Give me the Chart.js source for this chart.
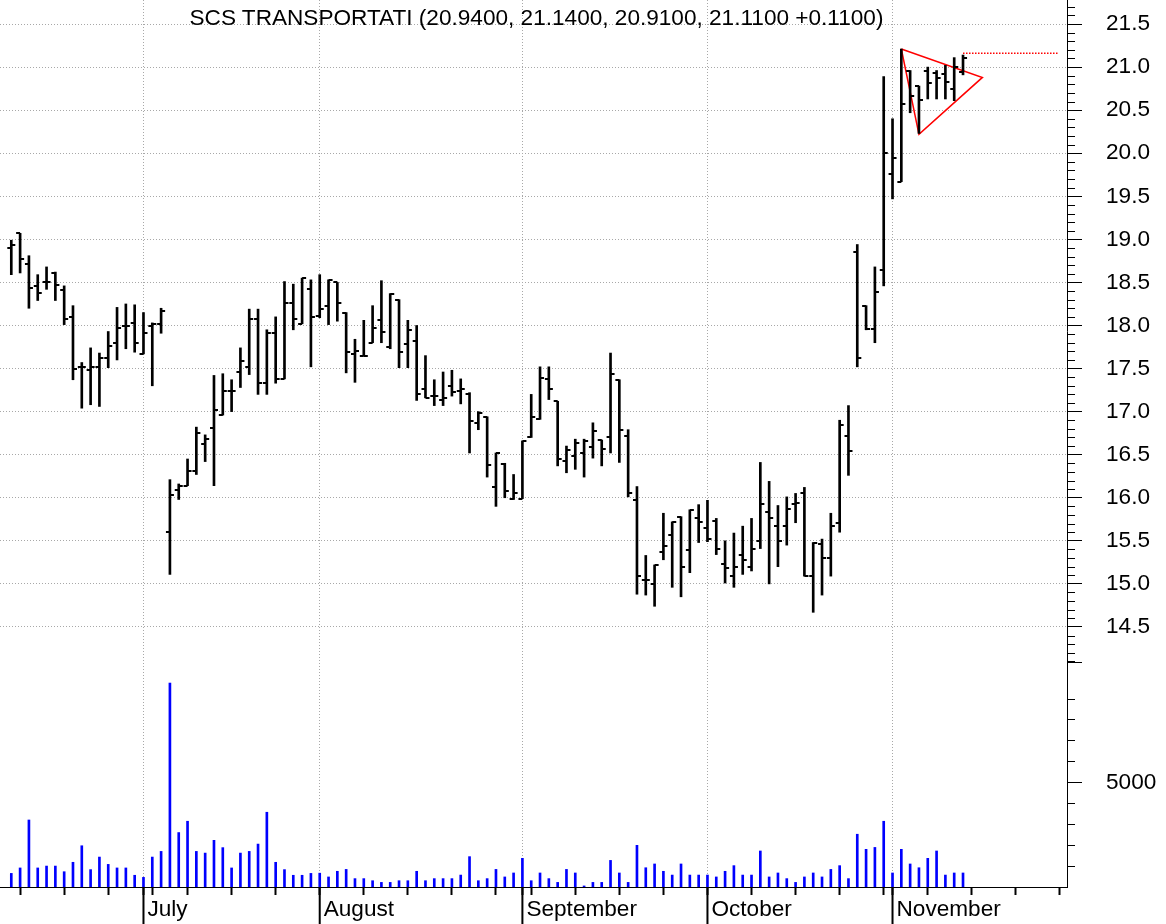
<!DOCTYPE html>
<html>
<head>
<meta charset="utf-8">
<title>SCS TRANSPORTATI</title>
<script src="https://cdn.jsdelivr.net/npm/chart.js@4.4.1/dist/chart.umd.min.js"></script>
<style>
  html, body { margin: 0; padding: 0; background: #fff; }
  #wrap { position: relative; width: 1166px; height: 924px; }
  #title {
    position: absolute; left: 0; top: 7px; width: 1073px;
    text-align: center; white-space: nowrap; color: #000;
    font: 22.6px/22px "Liberation Sans", Arial, sans-serif;
  }
</style>
</head>
<body>
<div id="wrap">
  <canvas id="chart" width="1166" height="924"></canvas>
  <div id="title">SCS TRANSPORTATI (20.9400, 21.1400, 20.9100, 21.1100 +0.1100)</div>
</div>
<script>
// ---------------------------------------------------------------
// Daily bars, 10 Jun -> 11 Nov (one entry per trading session)
// ---------------------------------------------------------------
const opens = [
  18.90, 19.07, 18.71, 18.46, 18.51, 18.61, 18.41, 18.10, 17.52, 17.48,
  17.52, 17.62, 17.80, 17.99, 18.03, 17.67, 17.99, 18.02, 15.60, 16.09,
  16.14, 16.31, 16.62, 16.81, 16.96, 17.24, 17.46, 17.52, 18.08, 17.33,
  17.91, 17.38, 18.26, 18.02, 18.42, 18.11, 18.23, 18.50, 18.15, 17.67,
  17.65, 17.80, 18.06, 17.75, 18.30, 17.78, 17.82, 17.26, 17.18, 17.14,
  17.30, 17.24, 17.20, 16.87, 16.94, 16.12, 16.39, 15.99, 15.99, 16.70,
  16.91, 17.38, 17.12, 16.43, 16.48, 16.52, 16.59, 16.67, 16.70, 17.37,
  16.72, 15.97, 15.04, 15.00, 15.37, 15.57, 15.78, 15.39, 15.76, 15.65,
  15.73, 15.23, 15.09, 15.34, 15.20, 15.50, 15.84, 15.67, 15.67, 15.93,
  16.05, 15.09, 15.46, 15.30, 15.71, 16.72, 18.85, 18.23, 17.96, 18.64,
  19.76, 19.67, 20.96, 20.78, 20.96, 20.93, 20.92, 20.75, 20.94
];
const highs = [
  18.99, 19.07, 18.81, 18.59, 18.68, 18.62, 18.46, 18.23, 17.57, 17.74,
  17.68, 17.93, 18.21, 18.25, 18.24, 18.15, 18.03, 18.20, 16.21, 16.16,
  16.45, 16.82, 16.73, 17.42, 17.44, 17.37, 17.74, 18.19, 18.19, 17.95,
  18.10, 18.51, 18.48, 18.55, 18.53, 18.59, 18.53, 18.50, 18.15, 17.84,
  18.06, 18.23, 18.52, 18.37, 18.30, 18.06, 18.00, 17.65, 17.37, 17.46,
  17.48, 17.38, 17.22, 17.00, 16.94, 16.52, 16.40, 16.27, 16.66, 17.20,
  17.52, 17.52, 17.12, 16.60, 16.68, 16.68, 16.87, 16.67, 17.68, 17.37,
  16.79, 16.13, 15.33, 15.22, 15.82, 15.72, 15.78, 15.86, 15.92, 15.97,
  15.76, 15.50, 15.59, 15.67, 15.76, 16.41, 16.19, 15.91, 16.01, 16.05,
  16.12, 15.48, 15.52, 15.82, 16.90, 17.07, 18.94, 18.23, 18.68, 20.89,
  20.40, 21.21, 20.96, 20.78, 21.00, 20.96, 21.02, 21.11, 21.14
];
const lows = [
  18.59, 18.61, 18.20, 18.29, 18.42, 18.29, 18.01, 17.37, 17.04, 17.08,
  17.06, 17.51, 17.60, 17.73, 17.69, 17.67, 17.30, 17.91, 15.11, 15.98,
  16.14, 16.27, 16.42, 16.14, 16.96, 17.00, 17.28, 17.43, 17.20, 17.20,
  17.33, 17.38, 17.95, 18.02, 17.52, 18.09, 18.01, 18.05, 17.45, 17.34,
  17.65, 17.80, 17.80, 17.73, 17.51, 17.51, 17.13, 17.16, 17.07, 17.07,
  17.18, 17.09, 16.52, 16.79, 16.24, 15.90, 16.00, 15.98, 15.99, 16.70,
  16.91, 17.14, 16.37, 16.29, 16.33, 16.24, 16.46, 16.37, 16.52, 16.41,
  16.01, 14.88, 14.87, 14.74, 15.28, 14.96, 14.85, 15.13, 15.48, 15.49,
  15.34, 15.01, 14.96, 15.11, 15.15, 15.41, 15.00, 15.20, 15.45, 15.71,
  15.09, 14.67, 14.87, 15.09, 15.60, 16.26, 17.52, 17.95, 17.80, 18.46,
  19.47, 19.67, 20.47, 20.23, 20.63, 20.63, 20.63, 20.61, 20.91
];
const closes = [
  18.94, 18.77, 18.43, 18.38, 18.51, 18.47, 18.08, 17.50, 17.52, 17.52,
  17.62, 17.76, 17.97, 17.99, 17.80, 17.91, 18.02, 18.17, 16.03, 16.14,
  16.31, 16.75, 16.68, 17.02, 17.24, 17.24, 17.59, 18.08, 17.33, 17.91,
  17.38, 18.26, 18.08, 18.55, 18.10, 18.19, 18.53, 18.26, 17.69, 17.70,
  17.65, 17.97, 17.93, 18.37, 17.69, 17.95, 17.20, 17.16, 17.18, 17.16,
  17.23, 17.26, 16.89, 16.98, 16.38, 16.52, 16.08, 16.06, 16.66, 16.94,
  17.39, 17.26, 16.45, 16.55, 16.63, 16.66, 16.77, 16.57, 17.44, 16.79,
  16.05, 15.09, 15.05, 15.22, 15.44, 15.72, 15.20, 15.86, 15.72, 15.52,
  15.41, 15.18, 15.20, 15.28, 15.41, 15.93, 15.76, 15.50, 15.87, 15.94,
  15.09, 15.48, 15.30, 15.67, 16.85, 16.54, 17.62, 17.96, 18.39, 20.00,
  19.95, 20.57, 20.66, 20.62, 20.82, 20.87, 20.83, 21.00, 21.11
];
const volumes = [
   650,  910, 3200,  910, 1000, 1000,  730, 1180, 1970,  830,
  1430, 1080,  910,  910,  560,  460, 1430, 1700, 9740, 2600,
  3140, 1700, 1620, 2230, 1880,  910, 1620, 1700, 2050, 3570,
  1180,  830,  560,  560,  650,  660,  480,  750,  840,  400,
   400,  300,  220,  220,  300,  300,  750,  300,  400,  400,
   400,  570, 1450,  300,  400,  840,  480,  670, 1370,  300,
   670,  400,  220,  840,  670,   50,  220,  220, 1270,  670,
   220, 1990,  920, 1100,  750,  570, 1100,  570,  570,  570,
   480,  750, 1020,  570,  570, 1720,  480,  670,  400,  220,
   480,  670,  480,  840, 1020,  400, 2520, 1800, 1890, 3140,
   670, 1800, 1100,  920, 1370, 1720,  570,  670,  670
];

// time axis: session index of each month start and of each week start
const monthNames = ['July', 'August', 'September', 'October', 'November'];
const monthStarts = [15, 35, 58, 79, 100];
const weekStarts = [1, 6, 11, 16, 20, 25, 30, 35, 40, 45, 50, 55, 59, 64, 69,
                    74, 79, 84, 89, 94, 99, 104, 109, 114, 119];

// axis labels
const priceTicks = [21.5, 21.0, 20.5, 20.0, 19.5, 19.0, 18.5, 18.0, 17.5,
                    17.0, 16.5, 16.0, 15.5, 15.0, 14.5];
const volumeTicks = [5000];

// drawn pattern: pennant + last high marker
const pennantX = [101, 110.2, 103, 101];
const pennantY = [21.21, 20.88, 20.22, 21.21];
const markerX = [108, 118.8];
const markerY = [21.16, 21.16];

const FONT = '"Liberation Sans", Arial, sans-serif';
Chart.defaults.font.family = FONT;
Chart.defaults.font.size = 22.6;
Chart.defaults.color = '#000';

const sessions = opens.map((_, i) => i);
const xTicks = Array.from(new Set(weekStarts.concat(monthStarts))).sort((a, b) => a - b);

// small canvases used as point style for the open (left) / close (right) ticks
function tickImage(side) {
  const c = document.createElement('canvas');
  c.width = 10; c.height = 2;
  const g = c.getContext('2d');
  g.fillStyle = '#000';
  if (side === 'left') g.fillRect(1, 0, 4, 2);
  else g.fillRect(5, 0, 4, 2);
  return c;
}

function noPadding(scale) {
  scale.paddingTop = 0; scale.paddingBottom = 0;
  scale.paddingLeft = 0; scale.paddingRight = 0;
}

// minor ticks on the right axis + month separators under the time axis
const extraTicks = {
  id: 'extraTicks',
  afterDraw(chart) {
    const { ctx, scales: { x, y, yv } } = chart;
    ctx.save();
    ctx.strokeStyle = '#000';
    ctx.lineWidth = 1;
    ctx.beginPath();
    for (let k = 141; k <= 217; k++) {
      if (k % 5 === 0) continue;
      const py = Math.round(y.getPixelForValue(k / 10)) + 0.5;
      ctx.moveTo(y.left, py); ctx.lineTo(y.left + 8, py);
    }
    for (let v = 1000; v < 10000; v += 1000) {
      if (v === 5000) continue;
      const py = Math.round(yv.getPixelForValue(v)) + 0.5;
      ctx.moveTo(yv.left, py); ctx.lineTo(yv.left + 8, py);
    }
    const top = Math.round(yv.top) + 0.5;
    ctx.moveTo(yv.left, top); ctx.lineTo(yv.left + 15, top);
    ctx.stroke();

    ctx.lineWidth = 2;
    ctx.beginPath();
    monthStarts.forEach(m => {
      const px = x.getPixelForValue(m);
      ctx.moveTo(px, x.top); ctx.lineTo(px, chart.height);
    });
    ctx.stroke();
    ctx.restore();
  }
};

new Chart(document.getElementById('chart'), {
  type: 'bar',
  data: {
    datasets: [
      {
        type: 'bar', label: 'range', yAxisID: 'y',
        data: sessions.map(i => ({ x: i, y: [lows[i], highs[i]] })),
        backgroundColor: '#000', barThickness: 2, grouped: false
      },
      {
        type: 'scatter', label: 'open', yAxisID: 'y',
        data: sessions.map(i => ({ x: i, y: opens[i] })),
        pointStyle: tickImage('left'), pointRadius: 5
      },
      {
        type: 'scatter', label: 'close', yAxisID: 'y',
        data: sessions.map(i => ({ x: i, y: closes[i] })),
        pointStyle: tickImage('right'), pointRadius: 5
      },
      {
        type: 'bar', label: 'volume', yAxisID: 'yv',
        data: sessions.map(i => ({ x: i, y: volumes[i] })),
        backgroundColor: '#0000ff', barThickness: 2, grouped: false
      },
      {
        type: 'line', label: 'pennant', yAxisID: 'y',
        data: pennantX.map((v, i) => ({ x: v, y: pennantY[i] })),
        borderColor: '#ff0000', borderWidth: 1.5, pointRadius: 0, tension: 0
      },
      {
        type: 'line', label: 'marker', yAxisID: 'y',
        data: markerX.map((v, i) => ({ x: v, y: markerY[i] })),
        borderColor: '#ff0000', borderWidth: 1.5, borderDash: [1.5, 1.5],
        pointRadius: 0
      }
    ]
  },
  options: {
    responsive: false,
    animation: false,
    events: [],
    layout: { padding: 0, autoPadding: false },
    plugins: { legend: { display: false }, tooltip: { enabled: false } },
    scales: {
      x: {
        type: 'linear', min: -1.282, max: 119.8, offset: false,
        afterBuildTicks: s => { s.ticks = xTicks.map(v => ({ value: v })); },
        afterFit: s => { s.height = 37; noPadding(s); },
        grid: {
          offset: false,
          color: c => (c.tick && monthStarts.includes(c.tick.value)) ? '#a8a8a8' : 'rgba(0,0,0,0)',
          tickColor: '#000', tickLength: 8, tickWidth: 2
        },
        border: { color: '#000', width: 1, dash: [1, 2] },
        ticks: {
          autoSkip: false, maxRotation: 0, align: 'start', labelOffset: 4, padding: 3,
          font: { size: 22.6, lineHeight: 1 },
          callback: v => { const k = monthStarts.indexOf(v); return k >= 0 ? monthNames[k] : ''; }
        }
      },
      y: {
        type: 'linear', position: 'right', stack: 'panes', stackWeight: 662,
        min: 14.093, max: 21.779,
        afterBuildTicks: s => { s.ticks = priceTicks.map(v => ({ value: v })); },
        afterFit: s => { s.width = 99; noPadding(s); },
        grid: { color: '#a8a8a8', tickColor: '#000', tickLength: 15, tickWidth: 1 },
        border: { color: '#000', width: 1, dash: [1, 2] },
        ticks: { autoSkip: false, padding: 24, callback: v => v.toFixed(1) }
      },
      yv: {
        type: 'linear', position: 'right', stack: 'panes', stackWeight: 225,
        min: 0, max: 10745,
        afterBuildTicks: s => { s.ticks = volumeTicks.map(v => ({ value: v })); },
        afterFit: s => { s.width = 99; noPadding(s); },
        grid: { drawOnChartArea: false, tickColor: '#000', tickLength: 15, tickWidth: 1 },
        border: { color: '#000', width: 1 },
        ticks: { autoSkip: false, padding: 24, callback: v => String(v) }
      }
    }
  },
  plugins: [extraTicks]
});
</script>
</body>
</html>
